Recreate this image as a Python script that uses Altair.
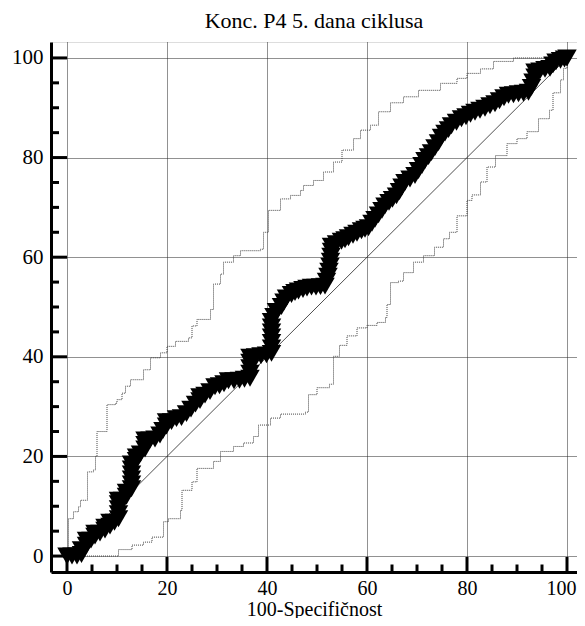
import altair as alt
import pandas as pd

# ---------------- data ----------------
roc_x = [0, 1, 2, 2.9, 2.9, 3.9, 3.9, 4.8, 5.6, 5.6, 6.6, 7.6, 7.6, 8.6, 8.6,
         9.5, 10.3, 10.3, 10.3, 10.3, 10.3, 11.1, 11.9, 11.9,
         12.9, 12.9, 12.9, 12.9, 12.9, 12.9, 13.9, 13.9,
         14.7, 15.6, 15.6, 15.6, 16.6, 17.6, 18.6, 19.2, 19.9, 19.9,
         20.9, 21.9, 22.9, 23.9, 24.8, 25.7, 26.6, 26.6, 27.6, 28.6, 29.6,
         30.5, 31.4, 32.3, 33.4, 34.5, 35.5, 36.6, 36.6, 36.6, 36.6, 36.6,
         37.7, 38.8, 39.9, 40.9, 40.9, 40.9, 40.9, 40.9, 40.9, 40.9,
         41.4, 41.9, 42.9, 43.4, 43.9, 44.9, 45.6, 46.3, 47.2, 48.0, 48.9,
         49.8, 50.7, 51.6, 51.9, 52.2, 52.4, 52.6, 52.7, 52.8, 52.9, 52.9,
         53.9, 54.9, 55.6, 56.3, 57.2, 58.0, 58.9, 59.6, 60.3, 61.0, 61.6,
         62.3, 63.0, 63.6, 64.4, 65.1, 65.9, 66.5, 67.0, 67.6, 68.6, 69.6,
         70.3, 71.0, 71.6, 72.3, 72.9, 73.6, 74.3, 74.9, 75.6, 76.3, 76.9,
         77.9, 78.9, 79.8, 80.7, 81.6, 82.6, 83.6, 84.6, 85.6, 86.5, 87.4, 88.3,
         89.3, 90.3, 91.3, 92.3, 92.9, 93.2, 93.6, 93.6, 94.6, 95.6, 96.6,
         97.2, 97.8, 98.7, 99.5, 100]
roc_y = [0, 0, 0, 0.3, 1.3, 2.2, 3.2, 3.2, 4.0, 4.6, 4.6, 5.2, 5.8, 6.0, 6.8,
         6.8, 7.5, 8.5, 9.5, 10.5, 11.2, 11.2, 12.0, 12.8,
         13.5, 14.5, 15.5, 16.5, 17.5, 18.5, 19.2, 19.9,
         20.5, 21.5, 22.4, 23.3, 23.3, 23.5, 24.3, 25.2, 26.1, 27.0,
         27.0, 27.6, 27.8, 28.6, 29.5, 30.5, 31.2, 32.0, 32.3, 33.0, 34.0,
         34.2, 34.6, 35.2, 35.2, 35.3, 35.5, 35.7, 36.7, 37.8, 38.9, 39.9,
         40.0, 40.2, 40.4, 40.7, 41.8, 42.9, 44.0, 45.0, 46.0, 47.1,
         48.1, 49.1, 50.1, 51.0, 51.8, 52.5, 52.9, 53.2, 53.5, 53.8, 54.0,
         54.0, 54.1, 54.2, 55.2, 56.2, 57.2, 58.2, 59.2, 60.2, 61.2, 62.2,
         62.7, 63.2, 63.5, 63.9, 64.4, 64.8, 65.3, 65.6, 65.9, 66.8, 67.6,
         68.5, 69.4, 70.3, 71.0, 71.6, 72.3, 73.2, 74.1, 75.0, 75.7, 76.4,
         77.4, 78.4, 79.4, 80.2, 81.0, 82.0, 83.0, 84.1, 84.9, 85.6, 86.4,
         87.1, 87.8, 88.2, 88.7, 89.1, 89.5, 89.9, 90.4, 90.8, 91.4, 92.0, 92.5,
         92.6, 92.8, 92.9, 93.1, 94.1, 95.2, 96.2, 97.2, 97.4, 97.7, 97.9,
         98.6, 99.2, 99.5, 99.8, 100]

upper_x = [0, 0.3, 1.3, 2.3, 2.7, 4.1, 5.3, 5.7, 6.0, 6.0, 8.0, 8.0, 9.7, 10.0,
           11.0, 11.7, 12.7, 15.3, 16.7, 18.7, 20.0, 21.7, 24.3, 25.0, 26.0,
           28.7, 29.3, 30.7, 31.3, 33.3, 34.7, 38.7, 39.3, 40.3, 42.7, 44.7,
           46.7, 47.3, 49.3, 51.3, 53.3, 55.0, 57.3, 58.7, 60.7, 62.3, 64.7,
           67.3, 70.3, 74.7, 78.0, 80.0, 82.7, 85.3, 89.3, 100]
upper_y = [0, 7.5, 8.9, 9.9, 11.2, 16.9, 17.3, 20.0, 21.0, 25.0, 26.7, 30.4,
           30.7, 31.4, 32.7, 34.1, 35.4, 37.4, 39.8, 40.8, 42.1, 43.1, 43.8,
           46.2, 47.5, 49.5, 54.6, 56.6, 59.0, 60.3, 61.3, 61.6, 65.0, 69.4,
           71.7, 72.4, 73.4, 74.4, 75.4, 77.1, 79.1, 81.5, 83.8, 85.5, 86.5,
           89.2, 91.0, 92.2, 93.5, 94.9, 95.9, 96.9, 97.8, 99.3, 100, 100]

lower_x = [0, 9.3, 10.3, 13.0, 15.3, 17.0, 19.3, 19.3, 20.3, 22.7, 23.0, 25.0,
           26.0, 29.3, 30.7, 33.3, 35.3, 37.3, 38.3, 40.7, 42.7, 47.7, 48.3,
           50.0, 52.5, 53.3, 54.5, 56.0, 58.0, 60.0, 62.0, 63.7, 64.0, 64.7,
           66.3, 67.3, 69.3, 71.3, 73.5, 75.3, 76.5, 78.0, 80.0, 81.0, 82.7,
           84.0, 85.7, 88.0, 90.0, 92.0, 94.3, 96.5, 97.2, 98.7, 99.3, 100]
lower_y = [0, 0, 1.3, 2.2, 2.8, 3.8, 4.2, 6.9, 7.5, 9.2, 13.2, 14.9, 17.6,
           19.0, 21.0, 22.0, 22.7, 24.0, 26.3, 27.7, 28.5, 28.9, 32.4, 33.8,
           34.5, 40.1, 42.3, 44.2, 45.8, 46.3, 46.9, 47.9, 50.5, 54.9, 55.2,
           56.9, 59.0, 60.3, 62.0, 63.7, 65.0, 68.3, 71.4, 72.5, 75.1, 78.1,
           80.4, 82.8, 83.8, 85.2, 87.8, 89.5, 93.0, 95.6, 97.9, 100]

diag = [0, 100]
major_ticks = [0, 20, 40, 60, 80, 100]
minor_ticks = [5, 10, 15, 25, 30, 35, 45, 50, 55, 65, 70, 75, 85, 90, 95]

title_text = "Konc. P4 5. dana ciklusa"
x_title = "100-Specifičnost"

# ---------------- tables ----------------
roc = pd.DataFrame({"x": roc_x, "y": roc_y})
upper = pd.DataFrame({"x": upper_x, "y": upper_y, "i": range(len(upper_x))})
lower = pd.DataFrame({"x": lower_x, "y": lower_y, "i": range(len(lower_x))})
dg = pd.DataFrame({"x": diag, "y": diag})
majors = pd.DataFrame({"v": major_ticks})
minors = pd.DataFrame({"v": minor_ticks})

FONT = "Liberation Serif"
W, H = 526, 530

xs = alt.Scale(domain=[-3.2, 102.0], nice=False, zero=False)
ys = alt.Scale(domain=[-3.2, 103.2], nice=False, zero=False)

xaxis = alt.Axis(values=major_ticks, ticks=False, tickSize=0, domainWidth=3,
                 domainColor="black", grid=True, gridColor="#222",
                 gridDash=[1, 1], gridWidth=1, labelFont=FONT, labelFontSize=20,
                 labelColor="black", labelBaseline="alphabetic", labelPadding=22,
                 labelFlush=False,
                 labelOffset=alt.expr("datum.value == 100 ? -6 : 0"),
                 titleFont=FONT, titleFontSize=20, titleFontWeight="normal",
                 titleColor="black", titleBaseline="alphabetic", titleY=43)
yaxis = alt.Axis(values=major_ticks, ticks=False, tickSize=0, domainWidth=3,
                 domainColor="black", grid=True, gridColor="#222",
                 gridDash=[1, 1], gridWidth=1, labelFont=FONT, labelFontSize=21,
                 labelColor="black", labelPadding=8, labelFlush=False)

X = lambda f="x": alt.X(f"{f}:Q", scale=xs, axis=xaxis, title=x_title)
Y = lambda f="y": alt.Y(f"{f}:Q", scale=ys, axis=yaxis, title=None)

upper_line = alt.Chart(upper).mark_line(
    interpolate="step-after", color="#444", strokeWidth=1, strokeDash=[1, 1]
).encode(x=X(), y=Y(), order="i:Q")

lower_line = alt.Chart(lower).mark_line(
    interpolate="step-after", color="#444", strokeWidth=1, strokeDash=[1, 1]
).encode(x=X(), y=Y(), order="i:Q")

diag_line = alt.Chart(dg).mark_line(color="#222", strokeWidth=0.8).encode(x=X(), y=Y())

roc_pts = alt.Chart(roc).mark_point(
    shape="triangle-down", filled=True, size=380, color="black", opacity=1
).encode(x=X(), y=Y())

xt_major = alt.Chart(majors).mark_rule(color="black", strokeWidth=3).encode(
    x=X("v"), y=alt.value(H), y2=alt.value(H - 15))
xt_minor = alt.Chart(minors).mark_rule(color="black", strokeWidth=3).encode(
    x=X("v"), y=alt.value(H), y2=alt.value(H - 7.5))
yt_major = alt.Chart(majors).mark_rule(color="black", strokeWidth=3).encode(
    y=Y("v"), x=alt.value(0), x2=alt.value(16))
yt_minor = alt.Chart(minors).mark_rule(color="black", strokeWidth=3).encode(
    y=Y("v"), x=alt.value(0), x2=alt.value(8))

chart = alt.layer(
    upper_line, lower_line, diag_line, roc_pts,
    xt_major, xt_minor, yt_major, yt_minor
).properties(
    width=W, height=H,
    title=alt.Title(title_text, font=FONT, fontSize=22, fontWeight="normal",
                    color="black", anchor="middle", frame="group",
                    baseline="alphabetic", offset=-8),
    autosize=alt.AutoSizeParams(type="none"),
    padding={"left": 43, "top": 34, "right": 0, "bottom": 46},
).configure_view(stroke=None).configure(background="white")

chart.save("out.html", embed_options={"renderer": "svg", "actions": False})
